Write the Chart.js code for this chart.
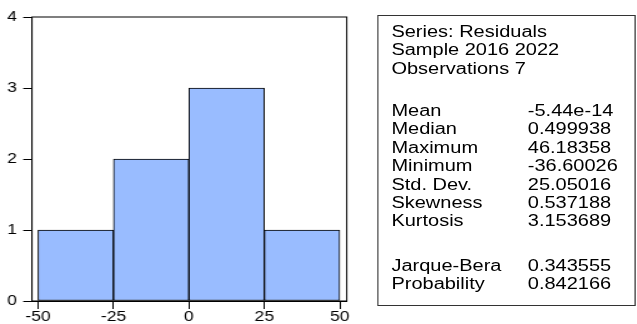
<!DOCTYPE html>
<html>
<head>
<meta charset="utf-8">
<script src="https://cdn.jsdelivr.net/npm/chart.js@4"></script>
<style>
  html, body { margin: 0; padding: 0; background: #fff; overflow: hidden; }
  #wrap { position: relative; width: 510px; height: 324px; transform: scaleX(1.249); transform-origin: 0 0; }
  #c { position: absolute; left: 0; top: 0; }
  #stats { position: absolute; left: 302px; top: 15px; width: 205px; height: 289px; border: 1px solid #333; box-sizing: content-box; }
  .ln { position: absolute; font-family: 'Liberation Sans', Arial, sans-serif; font-size: 16px; line-height: 18.4px; color: #000; white-space: nowrap; }
</style>
</head>
<body>
<div id="wrap">
  <canvas id="c" width="510" height="324" style="width:510px;height:324px;"></canvas>
  <div id="stats"></div>
</div>
<script>
// ---- data ----
const binCenters = [-37.5, -12.5, 12.5, 37.5];
const counts = [1, 2, 3, 1];
const xTicks = [-50, -25, 0, 25, 50];
const xTickLabels = ['-50', '-25', '0', '25', '50'];
const yTicks = [0, 1, 2, 3, 4];
const yTickLabels = ['0', '1', '2', '3', '4'];
const statHeader = ['Series: Residuals', 'Sample 2016 2022', 'Observations 7'];
const statNames = ['Mean', 'Median', 'Maximum', 'Minimum', 'Std. Dev.', 'Skewness', 'Kurtosis'];
const statValues = ['-5.44e-14', '0.499938', '46.18358', '-36.60026', '25.05016', '0.537188', '3.153689'];
const testNames = ['Jarque-Bera', 'Probability'];
const testValues = ['0.343555', '0.842166'];

// ---- stats panel ----
(function buildStats() {
  const box = document.getElementById('stats');
  const boxTop = 16;
  const pitch = 18.4;
  const labelX = 10.4, valueX = 119.6;
  function addLine(text, x, centerY) {
    const d = document.createElement('div');
    d.className = 'ln';
    d.textContent = text;
    d.style.left = x + 'px';
    d.style.top = (centerY - 9 - boxTop) + 'px';
    box.appendChild(d);
  }
  statHeader.forEach((t, i) => addLine(t, labelX, 32 + i * pitch));
  statNames.forEach((t, i) => {
    addLine(t, labelX, 111 + i * pitch);
    addLine(statValues[i], valueX, 111 + i * pitch);
  });
  testNames.forEach((t, i) => {
    addLine(t, labelX, 266 + i * pitch);
    addLine(testValues[i], valueX, 266 + i * pitch);
  });
})();

// ---- chart ----
const frame = {
  id: 'frame',
  afterDraw(chart) {
    const a = chart.chartArea, ctx = chart.ctx;
    ctx.save();
    ctx.strokeStyle = '#000';
    ctx.lineWidth = 1;
    ctx.strokeRect(a.left, a.top, a.right - a.left, a.bottom - a.top);
    ctx.restore();
  }
};

const tickFont = { family: "'Liberation Sans', Arial, sans-serif", size: 14 };

new Chart(document.getElementById('c'), {
  type: 'bar',
  data: {
    datasets: [{
      data: binCenters.map((x, i) => ({ x: x, y: counts[i] })),
      backgroundColor: 'rgb(153,188,255)',
      borderColor: '#000',
      borderWidth: 1,
      borderSkipped: false,
      barPercentage: 1,
      categoryPercentage: 1
    }]
  },
  options: {
    responsive: false,
    devicePixelRatio: 1,
    animation: false,
    events: [],
    layout: { padding: { left: 0, top: 17, right: 232.4, bottom: 0 } },
    plugins: { legend: { display: false }, tooltip: { enabled: false } },
    scales: {
      x: {
        type: 'linear',
        min: -52,
        max: 52.3,
        offset: false,
        afterBuildTicks: s => { s.ticks = xTicks.map(v => ({ value: v })); },
        afterFit: s => { s.height = 23; },
        ticks: {
          color: '#000',
          font: tickFont,
          padding: 0,
          maxRotation: 0,
          autoSkip: false,
          callback: (v) => xTickLabels[xTicks.indexOf(v)]
        },
        grid: { display: true, drawOnChartArea: false, drawTicks: true, tickLength: 8, color: '#000', offset: false },
        border: { display: true, color: '#000' }
      },
      y: {
        min: 0,
        max: 4,
        afterBuildTicks: s => { s.ticks = yTicks.map(v => ({ value: v })); },
        afterFit: s => { s.width = 25.6; },
        ticks: {
          color: '#000',
          font: tickFont,
          padding: 5,
          callback: (v) => yTickLabels[yTicks.indexOf(v)]
        },
        grid: { display: true, drawOnChartArea: false, drawTicks: true, tickLength: 7, color: '#000' },
        border: { display: true, color: '#000' }
      }
    }
  },
  plugins: [frame]
});
</script>
</body>
</html>
